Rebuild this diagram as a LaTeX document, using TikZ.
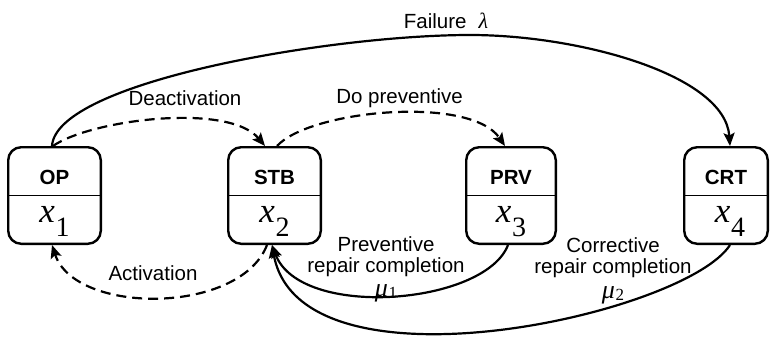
\documentclass[tikz,border=0pt]{standalone}
\usepackage{fontspec}
\setmainfont{Liberation Sans}
\newfontfamily\tmsfont{Liberation Serif}
\usetikzlibrary{arrows.meta}
\begin{document}
\begin{tikzpicture}[x=1pt,y=-1pt,
  state/.style={draw, line width=2.4pt, rounded corners=13pt,
    minimum width=92.6pt, minimum height=96.6pt, inner sep=0pt},
  boxtitle/.style={font=\fontsize{20.5}{20}\selectfont\bfseries, inner sep=0pt},
  boxvar/.style={anchor=base, inner sep=0pt},
  divider/.style={line width=0.8pt},
  lbl/.style={font=\fontsize{20.5}{21}\selectfont, inner sep=0pt, align=center},
  tip/.style={-{Stealth[length=13pt,width=11pt,inset=2.5pt]}},
  solidarrow/.style={tip, line width=2.2pt},
  dasharrow/.style={tip, line width=2.2pt, dash pattern=on 10pt off 6pt}
]
\useasboundingbox (0,0) rectangle (770,342);

% state boxes
\node[state] (op)  at (54.5,195.5) {};
\node[state] (stb) at (274.5,195.5) {};
\node[state, minimum width=89.6pt] (prv) at (511,195.5) {};
\node[state, minimum width=83.6pt] (crt) at (726,195.5) {};

\foreach \s in {op,stb,prv,crt}
  \draw[divider] (\s.west) -- (\s.east);

% names and variables
\newcommand{\statevar}[1]{{\tmsfont\fontsize{35}{35}\selectfont\itshape x\kern0.5pt\raisebox{-14pt}{\fontsize{28}{28}\selectfont\upshape #1}}}
\newcommand{\rate}[1]{{\tmsfont\fontsize{26}{26}\selectfont\itshape μ\kern0.5pt\raisebox{-2pt}{\fontsize{17}{17}\selectfont\upshape #1}}}
\node[boxtitle] (optitle)  at ([yshift=18pt]op.center)  {OP};
\node[boxtitle] (stbtitle) at ([yshift=18pt]stb.center) {STB};
\node[boxtitle] (prvtitle) at ([yshift=18pt]prv.center) {PRV};
\node[boxtitle] (crttitle) at ([yshift=18pt]crt.center) {CRT};
\node[boxvar] (opvar)  at ([yshift=-26.5pt]op.center)  {\statevar{1}};
\node[boxvar] (stbvar) at ([yshift=-26.5pt]stb.center) {\statevar{2}};
\node[boxvar] (prvvar) at ([yshift=-26.5pt]prv.center) {\statevar{3}};
\node[boxvar] (crtvar) at ([xshift=4pt,yshift=-26.5pt]crt.center) {\statevar{4}};

% transitions
\coordinate (failtop) at (470,35);
\draw[solidarrow] ([xshift=-2.5pt]op.north) .. controls (56,82) and (330,35) .. (failtop)
  .. controls (580,35) and (725,75) .. ([xshift=4pt]crt.north);
\draw[dasharrow] ([xshift=-1.5pt]op.north) .. controls (90,120) and (228,102) .. ([xshift=-9.5pt]stb.north);
\draw[dasharrow] ([xshift=2.5pt]stb.north) .. controls (310,110) and (470,95) .. ([xshift=-6pt]prv.north);
\draw[dasharrow] ([xshift=-7.5pt]stb.south) .. controls (240,315) and (75,315) .. ([xshift=-2.5pt]op.south);
\draw[solidarrow] ([xshift=-3pt]prv.south) .. controls (485,305) and (300,320) .. ([xshift=-2.5pt]stb.south);
\draw[solidarrow] ([xshift=4pt]crt.south) .. controls (685,315) and (300,400) .. ([xshift=-2.5pt]stb.south);

% transition labels
\node[lbl] (failure) at (446,21) {Failure\hspace{12pt}{\tmsfont\itshape\fontsize{22}{22}\selectfont λ}};
\node[lbl] (deact) at (185,98) {Deactivation};
\node[lbl] (dopre) at (399.5,98) {Do preventive};
\node[lbl] (act) at (153,273) {Activation};
\node[lbl, anchor=north] (prevrep) at (386,236) {Preventive\\repair completion\\[3pt]\rate{1}};
\node[lbl, anchor=north] (corrrep) at (613,237) {Corrective\\repair completion\\[4pt]\rate{2}};
\end{tikzpicture}
\end{document}
